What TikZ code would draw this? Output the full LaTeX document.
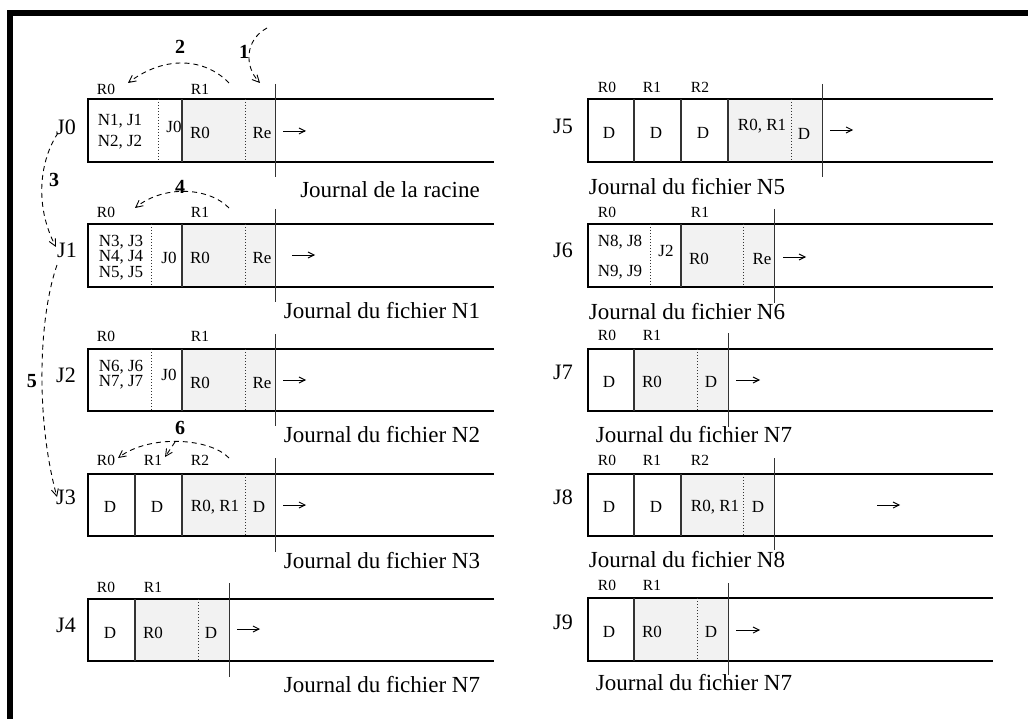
\documentclass[tikz,border=0pt]{standalone}
\usepackage{fontspec}
\setmainfont{Liberation Serif}
\usetikzlibrary{arrows.meta}
\tikzset{
  lab/.style={font=\fontsize{15.5}{16}\selectfont, inner sep=0pt},
  cell/.style={font=\fontsize{17}{17}\selectfont, inner sep=0pt},
  stack/.style={inner sep=0pt, align=center, font=\fontsize{17}{#1}\selectfont},
  jl/.style={font=\fontsize{22}{24}\selectfont, inner sep=0pt},
  captext/.style={font=\fontsize{23}{26}\selectfont, inner sep=0pt},
  num/.style={font=\fontsize{20}{22}\selectfont\bfseries, inner sep=0pt},
  boxl/.style={line width=1.1pt, black},
  divl/.style={line width=1.1pt, black!80},
  dotl/.style={line width=1pt, dotted, black!80},
  tickl/.style={line width=1pt, black!80},
  shadefill/.style={fill=black!5},
  sarrow/.style={line width=0.9pt, -{Straight Barb[length=6pt,width=6pt]}},
  darrow/.style={line width=0.9pt, dash pattern=on 5pt off 4pt, -{Straight Barb[length=7pt,width=7pt]}}
}
% #1 top, #2 bottom, #3 left, #4 end, #5 shade left, #6 shade right, #7 tick top, #8 tick bottom
\newcommand\journrow[8]{%
  \fill[shadefill] (#5,#1) rectangle (#6,#2);
  \draw[boxl] (#4,#1) -- (#3,#1) -- (#3,#2) -- (#4,#2);
  \draw[divl] (#5,#1) -- (#5,#2);
  \draw[tickl] (#6,#7) -- (#6,#8);
}
\begin{document}
\begin{tikzpicture}[x=1pt,y=-1pt]
\useasboundingbox (0,0) rectangle (1028,719);
% frame
\fill[black] (7,10) rectangle (1028,16);
\fill[black] (7,10) rectangle (13,719);

% ---------------- J0
\journrow{99}{162}{88}{494}{182}{275}{84}{177}
\draw[dotl] (158,99) -- (158,162);
\draw[dotl] (245,99) -- (245,162);
\node[lab] (j0r0) at (106,89) {R0};
\node[lab] (j0r1) at (200,89) {R1};
\node[jl] (J0) at (66,127) {J0};
\node[stack=21] (j0a) at (120,131.5) {N1, J1\\N2, J2};
\node[cell] (j0c) at (174,127) {J0};
\node[cell] (j0d) at (200,133) {R0};
\node[cell] (j0e) at (262,133) {Re};
\coordinate (j0s) at (283,131); \coordinate (j0t) at (306,131);
\draw[sarrow] (j0s) -- (j0t);
\node[captext] (c0) at (390,190) {Journal de la racine};

% ---------------- J1
\journrow{224}{287}{88}{494}{182}{275}{209}{302}
\draw[dotl] (151,224) -- (151,287);
\draw[dotl] (245,224) -- (245,287);
\node[lab] (j1r0) at (106,212) {R0};
\node[lab] (j1r1) at (200,212) {R1};
\node[jl] (J1) at (67,250) {J1};
\node[stack=15.5] (j1a) at (121,257.5) {N3, J3\\N4, J4\\N5, J5};
\node[cell] (j1d) at (169,258) {J0};
\node[cell] (j1e) at (200,258) {R0};
\node[cell] (j1f) at (262,258) {Re};
\coordinate (j1s) at (292,255); \coordinate (j1t) at (315,255);
\draw[sarrow] (j1s) -- (j1t);
\node[captext] (c1) at (382,311) {Journal du fichier N1};

% ---------------- J2
\journrow{349}{411}{88}{494}{182}{275}{334}{426}
\draw[dotl] (151,349) -- (151,411);
\draw[dotl] (245,349) -- (245,411);
\node[lab] (j2r0) at (106,336) {R0};
\node[lab] (j2r1) at (200,336) {R1};
\node[jl] (J2) at (66,375) {J2};
\node[stack=15] (j2a) at (121,374.5) {N6, J6\\N7, J7};
\node[cell] (j2c) at (169,375) {J0};
\node[cell] (j2d) at (200,383) {R0};
\node[cell] (j2e) at (262,383) {Re};
\coordinate (j2s) at (283,380); \coordinate (j2t) at (306,380);
\draw[sarrow] (j2s) -- (j2t);
\node[captext] (c2) at (382,435) {Journal du fichier N2};

% ---------------- J3
\journrow{474}{536}{88}{494}{182}{275}{458}{552}
\draw[divl] (135,474) -- (135,536);
\draw[dotl] (245,474) -- (245,536);
\node[lab] (j3r0) at (106,460) {R0};
\node[lab] (j3r1) at (153,460) {R1};
\node[lab] (j3r2) at (200,460) {R2};
\node[jl] (J3) at (66,497) {J3};
\node[cell] (j3a) at (110,507) {D};
\node[cell] (j3b) at (157,507) {D};
\node[cell] (j3c) at (215,507) {R0, R1};
\node[cell] (j3d) at (259,507) {D};
\coordinate (j3s) at (283,505); \coordinate (j3t) at (306,505);
\draw[sarrow] (j3s) -- (j3t);
\node[captext] (c3) at (382,561) {Journal du fichier N3};

% ---------------- J4
\journrow{599}{661}{88}{494}{135}{229}{583}{677}
\draw[dotl] (198,599) -- (198,661);
\node[lab] (j4r0) at (106,587) {R0};
\node[lab] (j4r1) at (153,587) {R1};
\node[jl] (J4) at (66,625) {J4};
\node[cell] (j4a) at (110,633) {D};
\node[cell] (j4b) at (153,633) {R0};
\node[cell] (j4c) at (211,633) {D};
\coordinate (j4s) at (237,629); \coordinate (j4t) at (260,629);
\draw[sarrow] (j4s) -- (j4t);
\node[captext] (c4) at (382,685) {Journal du fichier N7};

% ---------------- J5
\journrow{99}{162}{588}{993}{728}{822}{84}{177}
\draw[divl] (634,99) -- (634,162);
\draw[divl] (681,99) -- (681,162);
\draw[dotl] (791,99) -- (791,162);
\node[lab] (j5r0) at (607,87) {R0};
\node[lab] (j5r1) at (652,87) {R1};
\node[lab] (j5r2) at (700,87) {R2};
\node[jl] (J5) at (563,126) {J5};
\node[cell] (j5a) at (609,133) {D};
\node[cell] (j5b) at (656,133) {D};
\node[cell] (j5c) at (703,133) {D};
\node[cell] (j5d) at (762,126) {R0, R1};
\node[cell] (j5e) at (804,134) {D};
\coordinate (j5s) at (830,130); \coordinate (j5t) at (853,130);
\draw[sarrow] (j5s) -- (j5t);
\node[captext] (c5) at (687,187) {Journal du fichier N5};

% ---------------- J6
\journrow{224}{287}{588}{993}{681}{774}{209}{303}
\draw[dotl] (650,224) -- (650,287);
\draw[dotl] (743,224) -- (743,287);
\node[lab] (j6r0) at (607,212) {R0};
\node[lab] (j6r1) at (700,212) {R1};
\node[jl] (J6) at (563,250) {J6};
\node[stack=30] (j6a) at (620,257) {N8, J8\\N9, J9};
\node[cell] (j6c) at (666,251) {J2};
\node[cell] (j6d) at (699,259) {R0};
\node[cell] (j6e) at (762,259) {Re};
\coordinate (j6s) at (783,257); \coordinate (j6t) at (806,257);
\draw[sarrow] (j6s) -- (j6t);
\node[captext] (c6) at (687,312) {Journal du fichier N6};

% ---------------- J7
\journrow{349}{411}{588}{993}{634}{728}{333}{427}
\draw[dotl] (697,349) -- (697,411);
\node[lab] (j7r0) at (607,335) {R0};
\node[lab] (j7r1) at (652,335) {R1};
\node[jl] (J7) at (563,372) {J7};
\node[cell] (j7a) at (609,382) {D};
\node[cell] (j7b) at (652,382) {R0};
\node[cell] (j7c) at (711,382) {D};
\coordinate (j7s) at (736,380); \coordinate (j7t) at (760,380);
\draw[sarrow] (j7s) -- (j7t);
\node[captext] (c7) at (694,435) {Journal du fichier N7};

% ---------------- J8
\journrow{474}{536}{588}{993}{681}{774}{458}{550}
\draw[divl] (634,474) -- (634,536);
\draw[dotl] (743,474) -- (743,536);
\node[lab] (j8r0) at (607,460) {R0};
\node[lab] (j8r1) at (652,460) {R1};
\node[lab] (j8r2) at (700,460) {R2};
\node[jl] (J8) at (563,497) {J8};
\node[cell] (j8a) at (609,507) {D};
\node[cell] (j8b) at (656,507) {D};
\node[cell] (j8c) at (715,507) {R0, R1};
\node[cell] (j8d) at (758,507) {D};
\coordinate (j8s) at (877,505); \coordinate (j8t) at (900,505);
\draw[sarrow] (j8s) -- (j8t);
\node[captext] (c8) at (687,560) {Journal du fichier N8};

% ---------------- J9
\journrow{598}{661}{588}{993}{634}{728}{583}{675}
\draw[dotl] (697,598) -- (697,661);
\node[lab] (j9r0) at (607,585) {R0};
\node[lab] (j9r1) at (652,585) {R1};
\node[jl] (J9) at (563,622) {J9};
\node[cell] (j9a) at (609,632) {D};
\node[cell] (j9b) at (652,632) {R0};
\node[cell] (j9c) at (711,632) {D};
\coordinate (j9s) at (736,630); \coordinate (j9t) at (760,630);
\draw[sarrow] (j9s) -- (j9t);
\node[captext] (c9) at (694,683) {Journal du fichier N7};

% ---------------- numbered dashed arrows
\node[num] (n1) at (244,52) {1};
\coordinate (a1s) at (267,28); \coordinate (a1t) at (260,83);
\draw[darrow] (a1s) .. controls (245,40) and (244,66) .. (a1t);

\node[num] (n2) at (180,47) {2};
\coordinate (a2s) at (229,83); \coordinate (a2t) at (128,83);
\draw[darrow] (a2s) .. controls (205,58) and (165,55) .. (a2t);

\node[num] (n3) at (54,180) {3};
\coordinate (a3s) at (58,133); \coordinate (a3t) at (56,247);
\draw[darrow] (a3s) .. controls (40,160) and (34,205) .. (a3t);

\node[num] (n4) at (180,187) {4};
\coordinate (a4s) at (229,208); \coordinate (a4t) at (135,208);
\draw[darrow] (a4s) .. controls (210,188) and (165,184) .. (a4t);

\node[num] (n5) at (32,381) {5};
\coordinate (a5s) at (57,265); \coordinate (a5t) at (57,497);
\draw[darrow] (a5s) .. controls (38,320) and (36,420) .. (a5t);

\node[num] (n6) at (180,428) {6};
\coordinate (a6s) at (229,458); \coordinate (a6t) at (118,458);
\draw[darrow] (a6s) .. controls (210,438) and (150,434) .. (a6t);
\coordinate (a7s) at (175,442); \coordinate (a7t) at (165,457);
\draw[darrow] (a7s) -- (a7t);
\end{tikzpicture}
\end{document}
